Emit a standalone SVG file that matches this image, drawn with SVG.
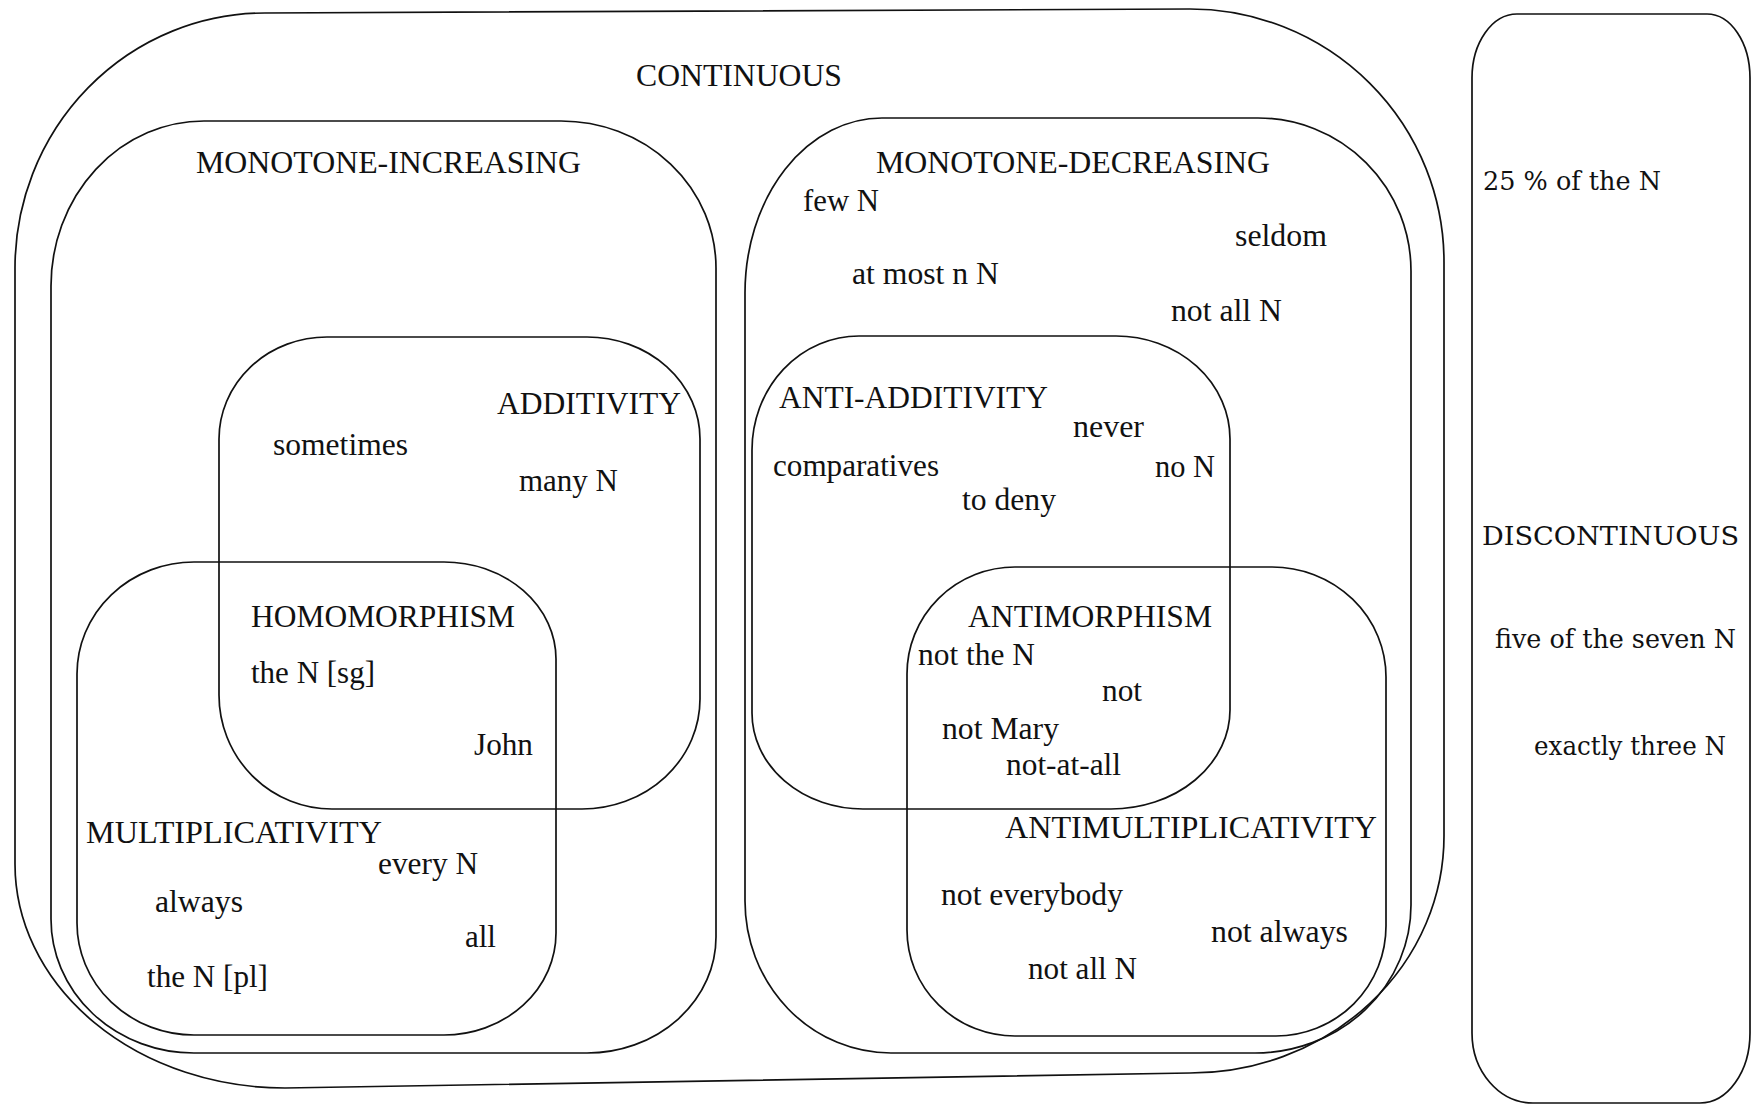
<svg xmlns="http://www.w3.org/2000/svg" width="1753" height="1106" viewBox="0 0 1753 1106">
<style>
.box{fill:none;stroke:#111;stroke-width:1.7}
text{font-family:"Liberation Serif","Times New Roman",serif;font-size:31px;fill:#111}
.d{font-family:"DejaVu Serif","Liberation Serif",serif;font-size:26px}
</style>
<rect x="0" y="0" width="1753" height="1106" fill="#fff"/>
<g id="continuous">
<path class="box" d="M265,13 L1190,9 A254,253 0 0 1 1444,262 L1444,836 A254,237 0 0 1 1190,1073 L285,1088 A270,224 0 0 1 15,864 L15,268 A250,255 0 0 1 265,13 Z"/>
<text x="636" y="86" textLength="206" lengthAdjust="spacingAndGlyphs">CONTINUOUS</text>
</g>
<g id="monotone-increasing">
<path class="box" d="M204,121 L561,121 A155,147 0 0 1 716,268 L716,937 A129,116 0 0 1 587,1053 L194,1053 A143,134 0 0 1 51,919 L51,286 A153,165 0 0 1 204,121 Z"/>
<text x="196" y="173" textLength="385" lengthAdjust="spacingAndGlyphs">MONOTONE-INCREASING</text>
</g>
<g id="additivity">
<path class="box" d="M327,337 L587,337 A113,102 0 0 1 700,439 L700,699 A118,110 0 0 1 582,809 L332,809 A113,114 0 0 1 219,695 L219,439 A108,102 0 0 1 327,337 Z"/>
<text x="497" y="414" textLength="184" lengthAdjust="spacingAndGlyphs">ADDITIVITY</text>
<text x="273" y="455" textLength="135" lengthAdjust="spacingAndGlyphs">sometimes</text>
<text x="519" y="491" textLength="99" lengthAdjust="spacingAndGlyphs">many N</text>
</g>
<g id="multiplicativity">
<path class="box" d="M194,562 L444,562 A112,97 0 0 1 556,659 L556,933 A112,102 0 0 1 444,1035 L194,1035 A117,112 0 0 1 77,923 L77,674 A117,112 0 0 1 194,562 Z"/>
<text x="86" y="843" textLength="296" lengthAdjust="spacingAndGlyphs">MULTIPLICATIVITY</text>
<text x="378" y="874" textLength="100" lengthAdjust="spacingAndGlyphs">every N</text>
<text x="155" y="912" textLength="88" lengthAdjust="spacingAndGlyphs">always</text>
<text x="465" y="947" textLength="31" lengthAdjust="spacingAndGlyphs">all</text>
<text x="147" y="987" textLength="121" lengthAdjust="spacingAndGlyphs">the N [pl]</text>
</g>
<g id="homomorphism">
<text x="251" y="627" textLength="264" lengthAdjust="spacingAndGlyphs">HOMOMORPHISM</text>
<text x="251" y="683" textLength="124" lengthAdjust="spacingAndGlyphs">the N [sg]</text>
<text x="474" y="755" textLength="59" lengthAdjust="spacingAndGlyphs">John</text>
</g>
<g id="monotone-decreasing">
<path class="box" d="M882,118 L1258,118 A153,153 0 0 1 1411,271 L1411,905 A156,148 0 0 1 1255,1053 L891,1053 A146,152 0 0 1 745,901 L745,293 A137,175 0 0 1 882,118 Z"/>
<text x="876" y="173" textLength="394" lengthAdjust="spacingAndGlyphs">MONOTONE-DECREASING</text>
<text x="803" y="211" textLength="76" lengthAdjust="spacingAndGlyphs">few N</text>
<text x="1235" y="246" textLength="92" lengthAdjust="spacingAndGlyphs">seldom</text>
<text x="852" y="284" textLength="147" lengthAdjust="spacingAndGlyphs">at most n N</text>
<text x="1171" y="321" textLength="111" lengthAdjust="spacingAndGlyphs">not all N</text>
</g>
<g id="anti-additivity">
<path class="box" d="M859,336 L1116,336 A114,103 0 0 1 1230,439 L1230,710 A119,99 0 0 1 1111,809 L863,809 A111,96 0 0 1 752,713 L752,450 A107,114 0 0 1 859,336 Z"/>
<text x="779" y="408" textLength="269" lengthAdjust="spacingAndGlyphs">ANTI-ADDITIVITY</text>
<text x="1073" y="437" textLength="71" lengthAdjust="spacingAndGlyphs">never</text>
<text x="773" y="476" textLength="166" lengthAdjust="spacingAndGlyphs">comparatives</text>
<text x="1155" y="477" textLength="60" lengthAdjust="spacingAndGlyphs">no N</text>
<text x="962" y="510" textLength="94" lengthAdjust="spacingAndGlyphs">to deny</text>
</g>
<g id="antimultiplicativity">
<path class="box" d="M1015,567 L1272,567 A114,110 0 0 1 1386,677 L1386,926 A110,110 0 0 1 1276,1036 L1015,1036 A108,106 0 0 1 907,930 L907,674 A108,107 0 0 1 1015,567 Z"/>
<text x="1005" y="838" textLength="372" lengthAdjust="spacingAndGlyphs">ANTIMULTIPLICATIVITY</text>
<text x="941" y="905" textLength="182" lengthAdjust="spacingAndGlyphs">not everybody</text>
<text x="1211" y="942" textLength="137" lengthAdjust="spacingAndGlyphs">not always</text>
<text x="1028" y="979" textLength="109" lengthAdjust="spacingAndGlyphs">not all N</text>
</g>
<g id="antimorphism">
<text x="968" y="627" textLength="244" lengthAdjust="spacingAndGlyphs">ANTIMORPHISM</text>
<text x="918" y="665" textLength="117" lengthAdjust="spacingAndGlyphs">not the N</text>
<text x="1102" y="701" textLength="40" lengthAdjust="spacingAndGlyphs">not</text>
<text x="942" y="739" textLength="117" lengthAdjust="spacingAndGlyphs">not Mary</text>
<text x="1006" y="775" textLength="115" lengthAdjust="spacingAndGlyphs">not-at-all</text>
</g>
<g id="discontinuous">
<path class="box" d="M1517,14 L1707,14 A43,64 0 0 1 1750,78 L1750,1033 A50,70 0 0 1 1700,1103 L1533,1103 A61,70 0 0 1 1472,1033 L1472,78 A45,64 0 0 1 1517,14 Z"/>
<text class="d" x="1483" y="190" textLength="178" lengthAdjust="spacingAndGlyphs">25 % of the N</text>
<text class="d" x="1482" y="545" textLength="257" lengthAdjust="spacingAndGlyphs">DISCONTINUOUS</text>
<text class="d" x="1495" y="648" textLength="241" lengthAdjust="spacingAndGlyphs">five of the seven N</text>
<text class="d" x="1534" y="755" textLength="192" lengthAdjust="spacingAndGlyphs">exactly three N</text>
</g>
<g id="connectors"/>
</svg>
